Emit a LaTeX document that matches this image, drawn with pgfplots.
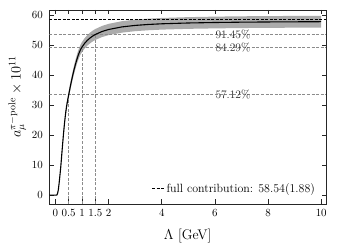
\documentclass[border=0pt]{standalone}
\usepackage{pgfplots}
\pgfplotsset{compat=1.18}
\usepgfplotslibrary{fillbetween}
\usepackage{pgfplotstable}

\pgfplotstableread{
x y lo hi
-0.23 0 0 0
0.00 0 0 0
0.05 0 0 0
0.08 0.5 0.48 0.52
0.11 1.8 1.74 1.86
0.14 4.0 3.86 4.14
0.17 6.6 6.38 6.82
0.20 9.3 8.98 9.62
0.23 12.5 12.07 12.93
0.26 15.8 15.26 16.34
0.30 20.0 19.32 20.68
0.34 23.8 22.99 24.61
0.38 27.0 26.08 27.92
0.42 29.6 28.59 30.61
0.46 31.6 30.53 32.67
0.50 33.44 32.30 34.58
0.55 35.74 34.52 36.96
0.60 37.89 36.60 39.18
0.65 39.89 38.53 41.25
0.70 41.74 40.32 43.16
0.75 43.44 41.96 44.92
0.80 44.99 43.46 46.52
0.85 46.39 44.81 47.97
0.90 47.59 45.97 49.21
0.95 48.59 46.94 50.24
1.00 49.34 47.66 51.02
1.1 50.59 48.87 52.31
1.2 51.57 49.82 53.32
1.3 52.35 50.57 54.13
1.4 53.00 51.20 54.80
1.5 53.53 51.71 55.35
1.75 54.52 52.67 56.37
2.0 55.20 53.32 57.08
2.5 56.06 54.15 57.97
3.0 56.56 54.64 58.48
3.5 56.88 54.95 58.81
4 57.10 55.16 59.04
5 57.37 55.42 59.32
6 57.53 55.57 59.49
7 57.64 55.68 59.60
8 57.71 55.75 59.67
9 57.76 55.80 59.72
10 57.80 55.83 59.77
}\curve

\begin{document}
\begin{tikzpicture}
\begin{axis}[
  scale only axis,
  width=276.7bp, height=193.8bp,
  xmin=-0.23, xmax=10.18, ymin=-2.9, ymax=61.7,
  xtick={0,0.5,1,1.5,2,4,6,8,10},
  ytick={0,10,20,30,40,50,60},
  tick align=inside,
  major tick length=4.5bp,
  minor tick num=0,
  axis line style={line width=0.6pt, black!85},
  tick style={line width=0.6pt, black!85},
  ticklabel style={font=\fontsize{10.5}{12}\selectfont},
  xticklabel style={yshift=-2bp},
  yticklabel style={xshift=-3bp},
  xlabel={$\Lambda$ [GeV]},
  ylabel={$a_{\mu}^{\pi-\mathrm{pole}}\times 10^{11}$},
  label style={font=\fontsize{14}{16}\selectfont},
  xlabel style={yshift=-6bp},
  ylabel style={at={(ticklabel cs:0.553)}, yshift=-1bp},
  legend image code/.code={\draw[#1] (0bp,0bp) -- (12bp,0bp);},
  legend style={at={(0.968,0.077)}, anchor=east, draw=none, fill=none,
    inner sep=0pt, font=\fontsize{12}{14}\selectfont},
  legend cell align=left,
]
\addplot[draw=none, name path=hi, forget plot] table[x=x, y=hi] {\curve};
\addplot[draw=none, name path=lo, forget plot] table[x=x, y=lo] {\curve};
\addplot[black!33, forget plot] fill between[of=hi and lo];

% guide lines
\addplot[black!45, line width=0.7pt, dash pattern=on 3bp off 1.6bp, forget plot] coordinates {(-0.23,53.53) (10.18,53.53)};
\addplot[black!45, line width=0.7pt, dash pattern=on 3bp off 1.6bp, forget plot] coordinates {(-0.23,49.34) (10.18,49.34)};
\addplot[black!45, line width=0.7pt, dash pattern=on 3bp off 1.6bp, forget plot] coordinates {(-0.23,33.44) (10.18,33.44)};
\addplot[black!45, line width=0.7pt, dash pattern=on 3bp off 1.6bp, forget plot] coordinates {(0.5,-2.9) (0.5,33.44)};
\addplot[black!45, line width=0.7pt, dash pattern=on 3bp off 1.6bp, forget plot] coordinates {(1,-2.9) (1,49.34)};
\addplot[black!45, line width=0.7pt, dash pattern=on 3bp off 1.6bp, forget plot] coordinates {(1.5,-2.9) (1.5,53.53)};

\addplot[black, line width=0.8pt, dash pattern=on 3bp off 1.5bp] coordinates {(-0.23,58.54) (10.18,58.54)};
\addlegendentry{full contribution: 58.54(1.88)}

\addplot[black, line width=1.1pt, forget plot] table[x=x, y=y] {\curve};

\node[font=\fontsize{11.5}{13}\selectfont, text=black!85] at (axis cs:6.68,53.53) {91.45\%};
\node[font=\fontsize{11.5}{13}\selectfont, text=black!85] at (axis cs:6.68,49.34) {84.29\%};
\node[font=\fontsize{11.5}{13}\selectfont, text=black!85] at (axis cs:6.68,33.44) {57.12\%};
\end{axis}
\path (current axis.south west) ++(-49.3bp,-44.7bp);
\path (current axis.north east) ++(12bp,10bp);
\end{tikzpicture}
\end{document}
